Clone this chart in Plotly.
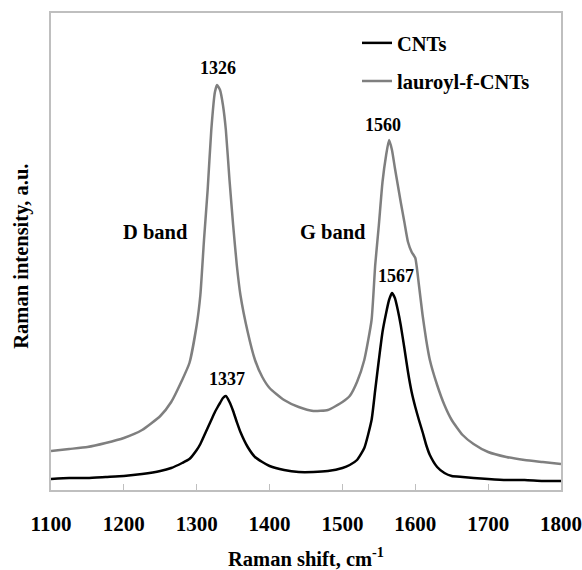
import plotly.graph_objects as go

# Raman shift (cm-1)
wavenumber = [1100, 1125, 1150, 1175, 1200, 1225, 1250, 1265, 1280, 1290, 1300, 1305, 1310, 1315,
              1320, 1325, 1328, 1332, 1336, 1340, 1345, 1350, 1355, 1360, 1370, 1380, 1390, 1400,
              1420, 1440, 1460, 1480, 1500, 1510, 1520, 1530, 1540, 1545, 1550, 1555, 1560, 1564,
              1568, 1572, 1576, 1580, 1585, 1590, 1595, 1600, 1605, 1610, 1615, 1620, 1630, 1640,
              1650, 1665, 1680, 1700, 1725, 1750, 1775, 1800]

# intensities (a.u.)
cnts = [11, 12, 12, 13, 14, 16, 19, 22, 27, 31, 40, 46, 54, 62,
        70, 78, 82, 87, 92, 94, 88, 79, 68, 58, 43, 33, 28, 24,
        20, 18, 18, 19, 22, 25, 30, 42, 70, 100, 130, 158, 177, 190,
        197, 192, 180, 165, 142, 118, 98, 83, 70, 58, 45, 35, 23, 17,
        14, 13, 12, 11, 10, 10, 9, 9]

lauroyl = [39, 41, 43, 47, 52, 60, 74, 88, 110, 127, 165, 195, 250, 300,
           360, 398, 405, 400, 385, 360, 310, 265, 225, 195, 158, 130, 113, 102,
           90, 83, 79, 80, 88, 94, 108, 130, 170, 225, 265, 308, 335, 350,
           340, 322, 305, 288, 268, 248, 238, 232, 205, 175, 150, 130, 105, 85,
           70, 55, 46, 38, 33, 30, 28, 26]

tick_vals = [1100, 1200, 1300, 1400, 1500, 1600, 1700, 1800]

peak_labels = ["1326", "1337", "1560", "1567"]
peak_x = [1329, 1341.5, 1556, 1573.5]
peak_y = [422, 111, 365, 214]

band_labels = ["D band", "G band"]
band_x = [1243, 1487]
band_y = [258, 258]

FONT = "Liberation Serif"

fig = go.Figure()
fig.add_trace(go.Scatter(x=wavenumber, y=cnts, mode="lines", name="CNTs",
                         line=dict(color="#000000", width=2.5, shape="spline", smoothing=0.5),
                         legend="legend", showlegend=True))
fig.add_trace(go.Scatter(x=wavenumber, y=lauroyl, mode="lines", name="lauroyl-f-CNTs",
                         line=dict(color="#7f7f7f", width=2.5, shape="spline", smoothing=0.5),
                         legend="legend2", showlegend=True))

for t, x, y in zip(peak_labels, peak_x, peak_y):
    fig.add_annotation(x=x, y=y, text=t, showarrow=False,
                       font=dict(family=FONT, size=18, color="#000000", weight="bold"))
for t, x, y in zip(band_labels, band_x, band_y):
    fig.add_annotation(x=x, y=y, text=t, showarrow=False,
                       font=dict(family=FONT, size=20.5, color="#000000", weight="bold"))

fig.add_annotation(x=0.5, y=-0.14, xref="paper", yref="paper",
                   text="Raman shift, cm<sup>-1</sup>", showarrow=False, yanchor="middle",
                   font=dict(family=FONT, size=20.5, color="#000000", weight="bold"))
fig.add_annotation(x=-0.058, y=0.49, xref="paper", yref="paper",
                   text="Raman intensity, a.u.", showarrow=False, textangle=-90,
                   xanchor="center", yanchor="middle",
                   font=dict(family=FONT, size=20.5, color="#000000", weight="bold"))

legend_style = dict(font=dict(family=FONT, size=20.5, color="#000000", weight="bold"),
                    bgcolor="rgba(0,0,0,0)", xanchor="left", yanchor="middle", visible=True)

fig.update_layout(
    width=582, height=570,
    margin=dict(l=51, r=21, t=13, b=80, autoexpand=False),
    paper_bgcolor="white", plot_bgcolor="white",
    showlegend=True,
    font=dict(family=FONT, size=20, color="#000000", weight="bold"),
    legend=dict(x=0.6, y=0.937, **legend_style),
    legend2=dict(x=0.6, y=0.857, **legend_style),
    xaxis=dict(range=[1100, 1800], tickvals=tick_vals, ticks="inside", ticklen=6,
               tickcolor="#bfbfbf", tickwidth=1, showline=True, linecolor="#bfbfbf",
               linewidth=1.5, mirror=True, showgrid=False, zeroline=False,
               ticklabelstandoff=14, automargin=False,
               tickfont=dict(family=FONT, size=21, color="#000000", weight="bold")),
    yaxis=dict(range=[0, 477], showticklabels=False, ticks="", showline=True,
               linecolor="#bfbfbf", linewidth=1.5, mirror=True, showgrid=False,
               zeroline=False, automargin=False),
)

fig.write_html("out.html")
